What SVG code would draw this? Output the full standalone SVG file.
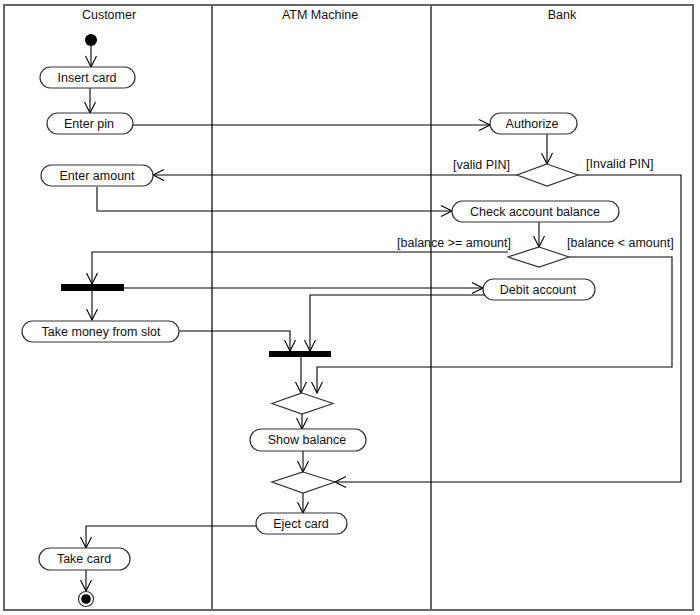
<svg xmlns="http://www.w3.org/2000/svg" width="700" height="615" viewBox="0 0 700 615">
<style>
text{font-family:"Liberation Sans",Arial,sans-serif;font-size:12.5px;fill:#111}
.lane{fill:none;stroke:#666;stroke-width:2}
.act{fill:#fff;stroke:#333;stroke-width:1.2}
.dec{fill:#fff;stroke:#333;stroke-width:1.2}
.bar{fill:#000}
.c{fill:none;stroke:#000;stroke-width:1.1}
.a{marker-end:url(#ah)}
</style>
<defs>
<marker id="ah" markerUnits="userSpaceOnUse" viewBox="-12 -7 14 14" refX="0" refY="0" markerWidth="14" markerHeight="14" orient="auto" overflow="visible">
<path d="M-11,-5.5 L0,0 L-11,5.5" fill="none" stroke="#000" stroke-width="1.1"/>
</marker>
</defs>
<rect width="700" height="615" fill="#fff"/>
<g id="swimlanes">
<rect class="lane" x="4" y="5" width="689" height="605"/>
<line class="lane" x1="212" y1="5" x2="212" y2="610"/>
<line class="lane" x1="431" y1="5" x2="431" y2="610"/>
<text x="109" y="19" text-anchor="middle">Customer</text>
<text x="320" y="19" text-anchor="middle">ATM Machine</text>
<text x="562" y="19" text-anchor="middle">Bank</text>
</g>
<g id="connectors">
<path class="c a" d="M91,46 V67"/>
<path class="c a" d="M90,88 V113"/>
<path class="c a" d="M133,125 H490"/>
<path class="c a" d="M547,134 V164"/>
<path class="c a" d="M517,175 H153"/>
<path class="c a" d="M578,175 H681 V482 H335"/>
<path class="c a" d="M97,187 V211 H452"/>
<path class="c a" d="M539,222 V247"/>
<path class="c a" d="M508,252 H92 V284"/>
<path class="c a" d="M569,257 H672 V367 H317 V393"/>
<path class="c a" d="M124,288 H483"/>
<path class="c a" d="M92,291 V320"/>
<path class="c a" d="M485,295 H310 V351"/>
<path class="c a" d="M179,331 H290 V351"/>
<path class="c a" d="M301,357 V393"/>
<path class="c a" d="M302,414 V429"/>
<path class="c a" d="M303,451 V472"/>
<path class="c a" d="M303,493 V513"/>
<path class="c a" d="M256,526 H86 V548"/>
<path class="c a" d="M86,570 V591"/>
<text x="510" y="169" text-anchor="end">[valid PIN]</text>
<text x="586" y="168">[Invalid PIN]</text>
<text x="511" y="247" text-anchor="end">[balance &gt;= amount]</text>
<text x="567" y="247">[balance &lt; amount]</text>
</g>
<g id="start"><circle cx="91" cy="40" r="6" fill="#000"/></g>
<g id="insert-card"><rect class="act" x="40" y="67" width="95" height="21" rx="10.5"/><text x="87" y="82" text-anchor="middle">Insert card</text></g>
<g id="enter-pin"><rect class="act" x="47" y="113" width="86" height="21" rx="10.5"/><text x="89" y="128" text-anchor="middle">Enter pin</text></g>
<g id="enter-amount"><rect class="act" x="41" y="165" width="112" height="21" rx="10.5"/><text x="97" y="180" text-anchor="middle">Enter amount</text></g>
<g id="authorize"><rect class="act" x="490" y="113" width="87" height="21" rx="10.5"/><text x="532" y="128" text-anchor="middle">Authorize</text></g>
<g id="pin-decision"><polygon class="dec" points="547,164 578,175 547,186 517,175"/></g>
<g id="check-balance"><rect class="act" x="452" y="201" width="167" height="21" rx="10.5"/><text x="535" y="216" text-anchor="middle">Check account balance</text></g>
<g id="balance-decision"><polygon class="dec" points="539,247 569,257 539,267 508,257"/></g>
<g id="fork1"><rect class="bar" x="61" y="284" width="63" height="7"/></g>
<g id="debit-account"><rect class="act" x="483" y="279" width="112" height="21" rx="10.5"/><text x="538" y="294" text-anchor="middle">Debit account</text></g>
<g id="take-money"><rect class="act" x="22" y="321" width="157" height="21" rx="10.5"/><text x="101" y="336" text-anchor="middle">Take money from slot</text></g>
<g id="fork2"><rect class="bar" x="269" y="351" width="62" height="6"/></g>
<g id="merge1"><polygon class="dec" points="302,393 333,403.5 302,414 272,403.5"/></g>
<g id="show-balance"><rect class="act" x="250" y="429" width="116" height="22" rx="11"/><text x="307" y="444" text-anchor="middle">Show balance</text></g>
<g id="merge2"><polygon class="dec" points="303,472 335,482 303,493 272,482"/></g>
<g id="eject-card"><rect class="act" x="256" y="513" width="91" height="21" rx="10.5"/><text x="301" y="528" text-anchor="middle">Eject card</text></g>
<g id="take-card"><rect class="act" x="39" y="548" width="91" height="22" rx="11"/><text x="84" y="563" text-anchor="middle">Take card</text></g>
<g id="end"><circle cx="86" cy="599" r="7.5" fill="#fff" stroke="#333" stroke-width="1.2"/><circle cx="86" cy="599" r="4.8" fill="#000"/></g>
</svg>
